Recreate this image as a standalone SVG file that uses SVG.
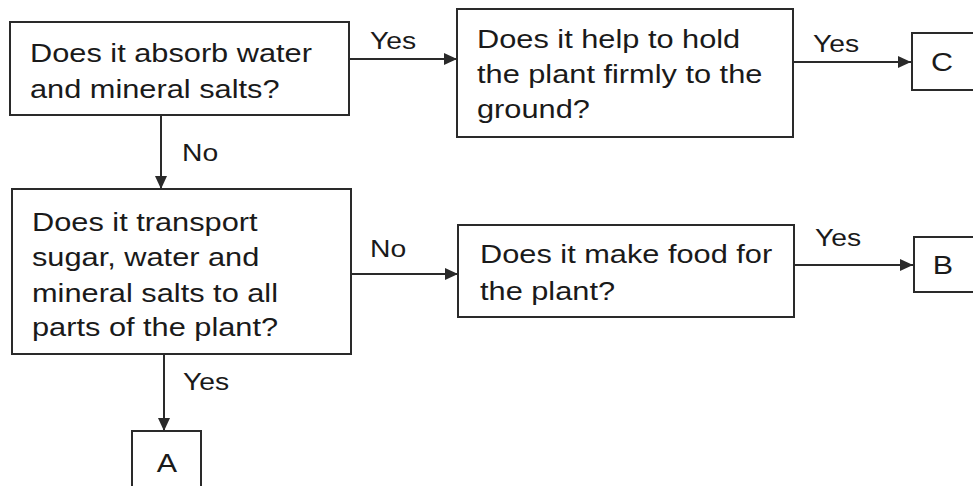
<svg xmlns="http://www.w3.org/2000/svg" width="973" height="486" viewBox="0 0 973 486">
<style>
.box{fill:none;stroke:#2a2a2a;stroke-width:2}
.t{font-family:"Liberation Sans",Arial,sans-serif;font-size:25px;fill:#1a1a1a}
.l{font-family:"Liberation Sans",Arial,sans-serif;font-size:24px;fill:#1a1a1a}
.c{fill:none;stroke:#2a2a2a;stroke-width:2}
</style>
<defs>
<marker id="ah" markerUnits="userSpaceOnUse" markerWidth="14" markerHeight="12" refX="13" refY="6" orient="auto">
<path d="M0,0 L13,6 L0,12 Z" fill="#2a2a2a"/>
</marker>
</defs>
<rect width="973" height="486" fill="#ffffff"/>
<g id="connectors">
<line class="c" x1="349" y1="59" x2="457" y2="59" marker-end="url(#ah)"/>
<line class="c" x1="793" y1="62" x2="911" y2="62" marker-end="url(#ah)"/>
<line class="c" x1="161" y1="115" x2="161" y2="189" marker-end="url(#ah)"/>
<line class="c" x1="351" y1="274" x2="458" y2="274" marker-end="url(#ah)"/>
<line class="c" x1="794" y1="265" x2="913" y2="265" marker-end="url(#ah)"/>
<line class="c" x1="164" y1="354" x2="164" y2="431" marker-end="url(#ah)"/>
<text class="l" transform="translate(370,49) scale(1.18,1)">Yes</text>
<text class="l" transform="translate(813,52) scale(1.18,1)">Yes</text>
<text class="l" transform="translate(182,161) scale(1.18,1)">No</text>
<text class="l" transform="translate(370,257) scale(1.18,1)">No</text>
<text class="l" transform="translate(815,246) scale(1.18,1)">Yes</text>
<text class="l" transform="translate(183,390) scale(1.18,1)">Yes</text>
</g>
<g id="q1">
<rect class="box" x="10" y="22" width="339" height="93"/>
<text class="t" transform="translate(30,62) scale(1.23,1)"><tspan x="0" y="0">Does it absorb water</tspan><tspan x="0" y="36">and mineral salts?</tspan></text>
</g>
<g id="q2">
<rect class="box" x="457" y="9" width="336" height="128"/>
<text class="t" transform="translate(477,48) scale(1.23,1)"><tspan x="0" y="0">Does it help to hold</tspan><tspan x="0" y="35">the plant firmly to the</tspan><tspan x="0" y="70">ground?</tspan></text>
</g>
<g id="nodeC">
<rect class="box" x="912" y="33" width="70" height="57"/>
<text class="t" transform="translate(942,71) scale(1.22,1)" text-anchor="middle">C</text>
</g>
<g id="q3">
<rect class="box" x="12" y="189" width="339" height="165"/>
<text class="t" transform="translate(32,231) scale(1.23,1)"><tspan x="0" y="0">Does it transport</tspan><tspan x="0" y="35">sugar, water and</tspan><tspan x="0" y="71">mineral salts to all</tspan><tspan x="0" y="105">parts of the plant?</tspan></text>
</g>
<g id="q4">
<rect class="box" x="458" y="225" width="336" height="92"/>
<text class="t" transform="translate(480,263) scale(1.23,1)"><tspan x="0" y="0">Does it make food for</tspan><tspan x="0" y="37">the plant?</tspan></text>
</g>
<g id="nodeB">
<rect class="box" x="914" y="237" width="70" height="55"/>
<text class="t" transform="translate(943,274) scale(1.22,1)" text-anchor="middle">B</text>
</g>
<g id="nodeA">
<rect class="box" x="132" y="431" width="69" height="70"/>
<text class="t" transform="translate(167,472) scale(1.22,1)" text-anchor="middle">A</text>
</g>
</svg>
